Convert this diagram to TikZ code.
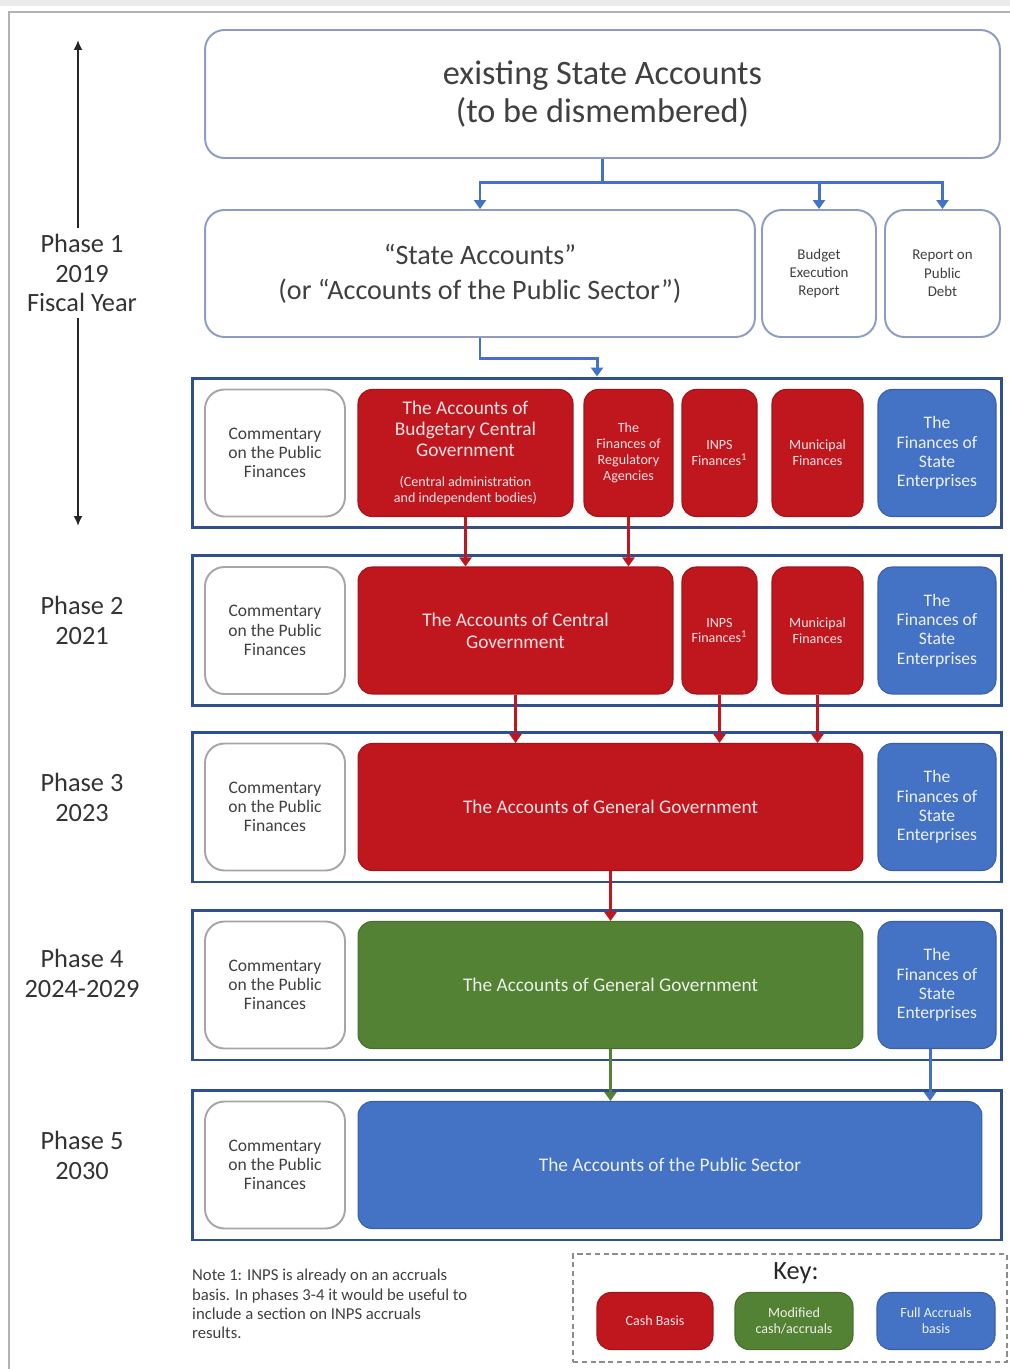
\documentclass[tikz,border=0pt]{standalone}
\usepackage{fontspec}
\setmainfont{Carlito}
\usepackage{tikz}
\usetikzlibrary{arrows.meta,positioning,calc}
\definecolor{acctblue}{HTML}{4472C4}
\definecolor{acctred}{HTML}{C0161E}
\definecolor{acctgreen}{HTML}{548235}
\definecolor{acctnavy}{HTML}{2F4F8F}
\definecolor{acctedge}{HTML}{8E9CC4}
\definecolor{acctgray}{HTML}{A6A6A6}
\definecolor{accttext}{HTML}{404040}
\newcommand{\tinyfont}{\fontsize{8}{9}\selectfont}
\tikzset{
  >={Triangle[length=1.8mm,width=2.4mm]},
  docnode/.style={rounded corners=11pt,draw=acctedge,line width=1.1pt,fill=white,
                  align=center,text=accttext,inner sep=2pt},
  commnode/.style={rounded corners=11pt,draw=acctgray,line width=1.1pt,fill=white,
                   align=center,text=accttext,inner sep=2pt,
                   minimum width=2.8cm,minimum height=2.54cm,
                   font=\fontsize{10}{11}\selectfont},
  cashnode/.style={rounded corners=8pt,draw=acctred!85!black,line width=0.6pt,fill=acctred,
                   align=center,text=white!88!acctred,inner sep=2pt,minimum height=2.54cm},
  modnode/.style={cashnode,draw=acctgreen!85!black,fill=acctgreen,text=white!88!acctgreen},
  fullnode/.style={cashnode,draw=acctblue!85!black,fill=acctblue,text=white!90!acctblue},
  phaseframe/.style={draw=acctnavy,line width=1.7pt,minimum width=16.2cm,
                     minimum height=3cm,inner sep=0pt},
  phaselabel/.style={align=center,text=black!80,font=\fontsize{15}{17}\selectfont},
  splitline/.style={line width=1.7pt,draw=acctblue},
  cashline/.style={->,line width=1.7pt,draw=acctred},
  modline/.style={->,line width=1.7pt,draw=acctgreen},
  fullline/.style={->,line width=1.7pt,draw=acctblue},
  yeararrow/.style={-{Latex[length=2mm,width=1.8mm]},line width=1pt,draw=black!85},
  keyframe/.style={draw=black!45,densely dashed,line width=0.8pt,inner sep=0pt},
}

\begin{document}
\begin{tikzpicture}[x=0.02cm,y=-0.02cm]
  \useasboundingbox (0,0) rectangle (1010,1369);
  \fill[black!8] (0,0) rectangle (1010,6);
  \draw[black!30,line width=1pt] (9,1369) -- (9,12) -- (1010,12);

  % phase rows and the commentary column
  \foreach \n/\y in {1/453,2/630.5,3/807,4/985,5/1165}{
    \node[phaseframe] (row\n) at (597,\y) {};
    \node[commnode] (comm\n) at (275,\y) {Commentary\\on the Public\\Finances};
  }
  \foreach \n/\y in {1/453,2/630.5,3/807,4/985}{
    \node[fullnode,minimum width=2.36cm,font=\fontsize{10}{11}\selectfont] (se\n) at (937,\y)
      {The\\Finances of\\State\\Enterprises};
  }

  % existing documents
  \node[docnode,minimum width=15.9cm,minimum height=2.56cm,font=\fontsize{19.5}{21.6}\selectfont]
    (old) at (602.5,94) {existing State Accounts\\(to be dismembered)};
  \node[docnode,minimum width=11cm,minimum height=2.54cm,font=\fontsize{16}{20}\selectfont]
    (sa) at (480,273.5) {“State Accounts”\\(or “Accounts of the Public Sector”)};
  \node[docnode,minimum width=2.28cm,minimum height=2.54cm,font=\fontsize{8.5}{10.5}\selectfont]
    (ber) at (819,273.5) {Budget\\Execution\\Report};
  \node[docnode,minimum width=2.3cm,minimum height=2.54cm,font=\fontsize{8.5}{10.5}\selectfont]
    (debt) at (942.5,273.5) {Report on\\Public\\Debt};

  % phase 1
  \node[cashnode,minimum width=4.3cm,font=\fontsize{11}{12}\selectfont] (bcg) at (465.5,453)
    {The Accounts of\\Budgetary Central\\Government\\[5pt]\fontsize{8}{9}\selectfont(Central administration\\[-3pt]\fontsize{8}{9}\selectfont and independent bodies)};
  \node[cashnode,minimum width=1.78cm,font=\tinyfont] (reg) at (628.5,453)
    {The\\Finances of\\Regulatory\\Agencies};
  \node[cashnode,minimum width=1.5cm,font=\tinyfont] (inps1) at (719.5,453)
    {INPS\\Finances\textsuperscript{1}};
  \node[cashnode,minimum width=1.82cm,font=\tinyfont] (mun1) at (817.5,453)
    {Municipal\\Finances};

  % phase 2
  \node[cashnode,minimum width=6.3cm,font=\fontsize{11}{12.5}\selectfont] (cg) at (515.5,630.5)
    {The Accounts of Central\\Government};
  \node[cashnode,minimum width=1.5cm,font=\tinyfont] (inps2) at (719.5,630.5)
    {INPS\\Finances\textsuperscript{1}};
  \node[cashnode,minimum width=1.82cm,font=\tinyfont] (mun2) at (817.5,630.5)
    {Municipal\\Finances};

  % phases 3 to 5
  \node[cashnode,minimum width=10.1cm,font=\fontsize{11}{12.5}\selectfont] (gg) at (610.5,807)
    {The Accounts of General Government};
  \node[modnode,minimum width=10.1cm,font=\fontsize{11}{12.5}\selectfont] (mgg) at (610.5,985)
    {The Accounts of General Government};
  \node[fullnode,minimum width=12.48cm,font=\fontsize{11}{12.5}\selectfont] (ps) at (670,1165)
    {The Accounts of the Public Sector};

  % phase labels
  \node[phaselabel] (ph1) at (82,273) {Phase 1\\2019\\Fiscal Year};
  \node[phaselabel] (ph2) at (82,620) {Phase 2\\2021};
  \node[phaselabel] (ph3) at (82,797) {Phase 3\\2023};
  \node[phaselabel] (ph4) at (82,973) {Phase 4\\2024-2029};
  \node[phaselabel] (ph5) at (82,1155) {Phase 5\\2030};
  \coordinate (yrtop) at (78,40);
  \coordinate (yrbot) at (78,526);
  \draw[yeararrow] (ph1.north -| yrtop) -- (yrtop);
  \draw[yeararrow] (ph1.south -| yrbot) -- (yrbot);

  % splitting the existing accounts
  \draw[splitline] (old.south) -- ++(0,24) coordinate (split);
  \draw[splitline,->] (split) -| (sa.north);
  \draw[splitline,->] (split) -| (ber.north);
  \draw[splitline,->] (split) -| (debt.north);
  \draw[splitline,->] (sa.south) -- ++(0,21) -| (row1.north);

  % flows between phases
  \draw[cashline] (bcg.south) -- (bcg.south |- cg.north);
  \draw[cashline] (reg.south) -- (reg.south |- cg.north);
  \draw[cashline] (cg.south) -- (cg.south |- gg.north);
  \draw[cashline] (inps2.south) -- (inps2.south |- gg.north);
  \draw[cashline] (mun2.south) -- (mun2.south |- gg.north);
  \draw[cashline] (gg.south) -- (mgg.north);
  \draw[modline] (mgg.south) -- (mgg.south |- ps.north);
  \draw[fullline] ([xshift=-0.14cm]se4.south) -- ([xshift=-0.14cm]se4.south |- ps.north);

  % note and key
  \node[anchor=north west,align=left,text=accttext,font=\fontsize{9.5}{11}\selectfont]
    (note) at (186,1263) {Note 1: INPS is already on an accruals\\basis. In phases 3-4 it would be useful to\\include a section on INPS accruals\\results.};
  \node[keyframe,minimum width=8.68cm,minimum height=2.16cm] (key) at (790,1308) {};
  \node[font=\fontsize{15}{18}\selectfont,text=black!85] (keytitle) at (796,1273) {Key:};
  \node[cashnode,minimum width=2.32cm,minimum height=1.14cm,font=\tinyfont] (kcash) at (655,1321) {Cash Basis};
  \node[modnode,minimum width=2.36cm,minimum height=1.14cm,font=\tinyfont] (kmod) at (794,1321) {Modified\\cash/accruals};
  \node[fullnode,minimum width=2.36cm,minimum height=1.14cm,font=\tinyfont] (kfull) at (936,1321) {Full Accruals\\basis};
\end{tikzpicture}
\end{document}
